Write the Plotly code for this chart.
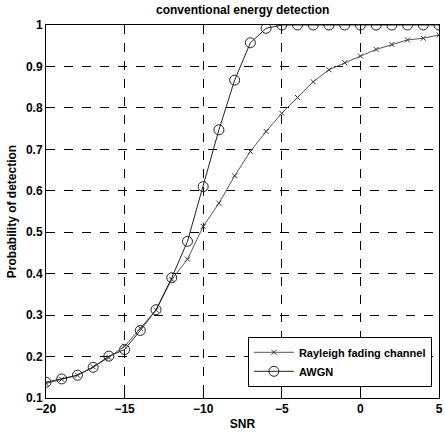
import plotly.graph_objects as go

snr = list(range(-20, 6))
awgn = [0.138, 0.146, 0.155, 0.174, 0.201, 0.217, 0.263, 0.313, 0.390, 0.478,
        0.610, 0.747, 0.867, 0.957, 0.992, 1.0, 1.0, 1.0, 1.0, 1.0,
        1.0, 1.0, 1.0, 1.0, 1.0, 1.0]
rayleigh = [0.135, 0.145, 0.155, 0.175, 0.198, 0.225, 0.268, 0.312, 0.386, 0.435,
            0.514, 0.570, 0.636, 0.695, 0.743, 0.787, 0.825, 0.863, 0.892, 0.909,
            0.925, 0.941, 0.953, 0.964, 0.968, 0.976]
xticks = [-20, -15, -10, -5, 0, 5]
yticks = [0.1, 0.2, 0.3, 0.4, 0.5, 0.6, 0.7, 0.8, 0.9, 1.0]
ytick_text = ["0.1", "0.2", "0.3", "0.4", "0.5", "0.6", "0.7", "0.8", "0.9", "1"]

FONT = "Liberation Sans"

fig = go.Figure()
fig.add_trace(go.Scatter(
    x=snr, y=rayleigh, name="Rayleigh fading channel", mode="lines+markers",
    line=dict(color="#555555", width=1),
    marker=dict(symbol="x-thin", size=5, line=dict(color="#333333", width=1), color="#333333"),
))
fig.add_trace(go.Scatter(
    x=snr, y=awgn, name="AWGN", mode="lines+markers",
    line=dict(color="#222222", width=1),
    marker=dict(symbol="circle-open", size=10, color="#222222", line=dict(width=1)),
))

axis_common = dict(
    showgrid=True, gridcolor="black", griddash="dash", gridwidth=0.8,
    showline=True, linecolor="black", linewidth=1, mirror=True,
    ticks="inside", ticklen=5, tickcolor="black", zeroline=False,
    ticklabeloverflow="allow",
    tickfont=dict(family=FONT, size=12, color="black", weight="bold"),
)

fig.update_xaxes(range=[-20, 5], tickvals=xticks, **axis_common,
                 title=dict(text="SNR", font=dict(family=FONT, size=12, color="black", weight="bold"), standoff=4))
fig.update_yaxes(range=[0.1, 1.0], tickvals=yticks, ticktext=ytick_text, **axis_common,
                 title=dict(text="Probability of detection", font=dict(family=FONT, size=12, color="black", weight="bold"), standoff=6))

fig.add_annotation(text="conventional energy detection", xref="paper", yref="paper",
                   x=0.5, y=1.0, yshift=6, yanchor="bottom", showarrow=False,
                   font=dict(family=FONT, size=12, color="black", weight="bold"))

fig.update_layout(
    width=445, height=435,
    margin=dict(l=46, r=2, t=25, b=37),
    paper_bgcolor="white", plot_bgcolor="white",
    showlegend=True,
    legend=dict(x=0.982, y=0.03, xanchor="right", yanchor="bottom",
                bgcolor="white", bordercolor="black", borderwidth=1,
                font=dict(family=FONT, size=11, color="black", weight="bold"),
                tracegroupgap=0, itemwidth=40),
)

fig.write_html("out.html")
